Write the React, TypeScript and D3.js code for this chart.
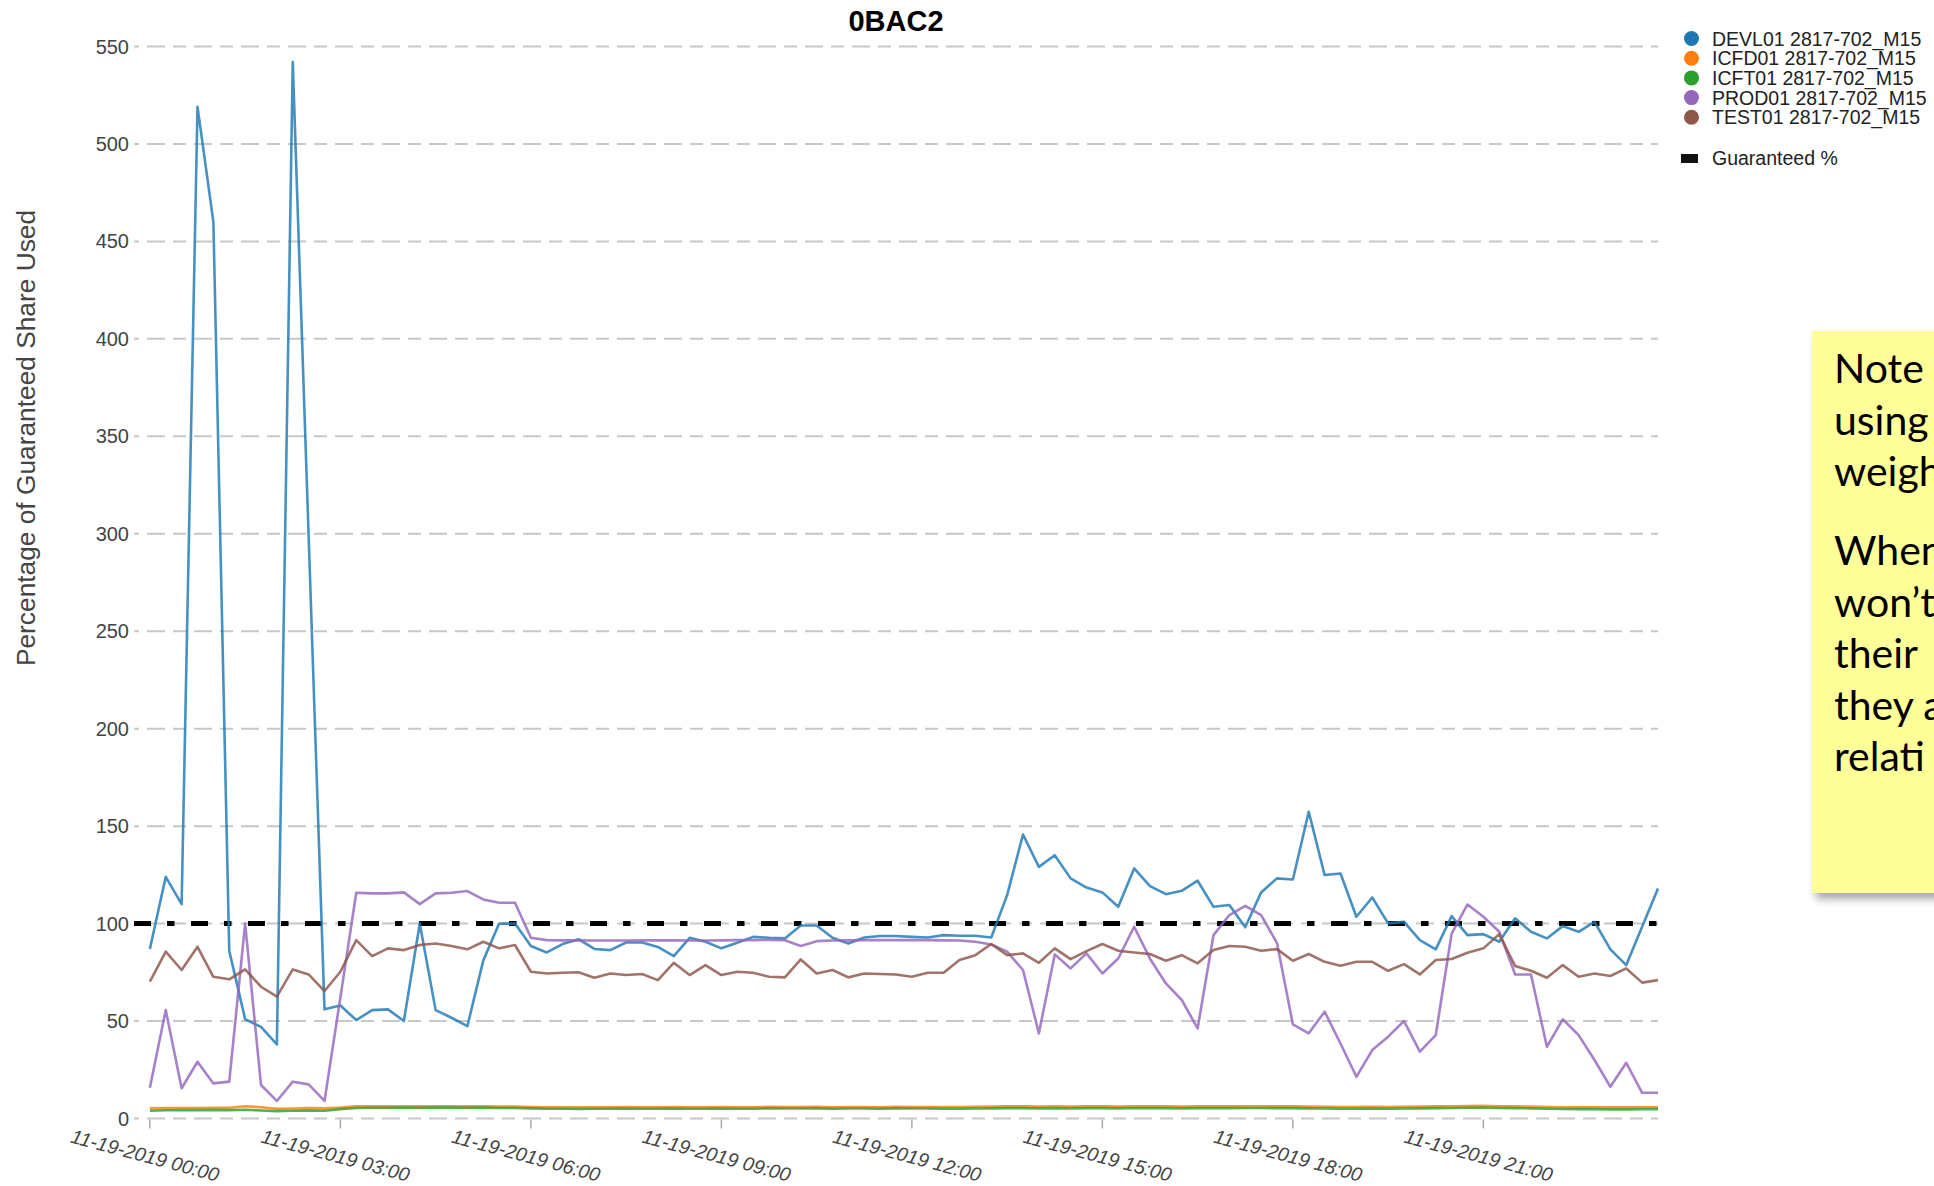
import React from 'react';
import * as d3 from 'd3';

const W = 1934;
const H = 1186;

const TITLE = '0BAC2';
const Y_LABEL = 'Percentage of Guaranteed Share Used';
const START = new Date(2019, 10, 19, 0, 0);
const STEP_MIN = 15;
const GUARANTEED = 100;
const GUARANTEED_LABEL = 'Guaranteed %';

const SERIES_NAMES = [
  'DEVL01 2817-702_M15',
  'ICFD01 2817-702_M15',
  'ICFT01 2817-702_M15',
  'PROD01 2817-702_M15',
  'TEST01 2817-702_M15',
];
const SERIES_COLORS = ['#1f77b4', '#ff7f0e', '#2ca02c', '#9467bd', '#8c564b'];

const DEVL = [
  87, 124, 110, 519, 460, 86, 51, 47, 38, 542, 299, 56,
  58, 50.5, 55.6, 56, 50, 100, 55.6, 51.7, 47.4, 81, 100, 100,
  88.5, 85.2, 89.5, 92, 87, 86.4, 90.3, 90.3, 88, 83.3, 92.7, 90.7,
  87.3, 90.2, 93.2, 92.7, 92.4, 99, 99, 92.7, 89.8, 92.9, 93.6, 93.6,
  93.2, 92.9, 94.1, 93.8, 93.8, 92.9, 114.6, 145.7, 129.1, 135.1, 123.2, 118.5,
  116, 108.6, 128.3, 119.2, 115.1, 116.8, 122, 108.6, 109.5, 98.1, 116, 123.2,
  122.6, 157.4, 124.9, 125.7, 103.5, 113.4, 100.1, 100.9, 91.5, 86.8, 103.8, 94.1,
  94.6, 90.7, 102.7, 95.8, 92.4, 98.7, 95.8, 100.9, 86.8, 78.7, 98.4, 118,
];

const ICFD = [
  5.2, 5.3, 5.4, 5.4, 5.5, 5.5, 6.3, 5.8, 5.0, 5.1, 5.3, 5.2,
  5.6, 6.2, 6.3, 6.2, 6.3, 6.2, 6.3, 6.3, 6.2, 6.3, 6.1, 6.1,
  5.9, 5.8, 5.8, 5.7, 5.8, 5.8, 5.9, 5.8, 5.8, 5.9, 5.8, 5.8,
  5.9, 5.8, 5.8, 6.0, 5.9, 5.9, 6.0, 5.8, 5.9, 5.9, 5.8, 6.0,
  5.9, 5.9, 5.9, 5.9, 6.0, 6.1, 6.2, 6.2, 6.1, 6.2, 6.1, 6.2,
  6.2, 6.1, 6.3, 6.2, 6.2, 6.1, 6.2, 6.3, 6.2, 6.3, 6.3, 6.2,
  6.2, 6.1, 6.0, 5.9, 5.9, 6.0, 5.9, 6.0, 6.1, 6.2, 6.3, 6.4,
  6.5, 6.3, 6.2, 6.1, 5.9, 5.8, 5.7, 5.7, 5.7, 5.7, 5.8, 5.8,
];

const ICFT = [
  4.0, 4.2, 4.3, 4.3, 4.4, 4.3, 4.5, 4.1, 3.8, 4.0, 4.1, 4.0,
  4.8, 5.4, 5.5, 5.5, 5.6, 5.5, 5.6, 5.6, 5.5, 5.6, 5.4, 5.4,
  5.2, 5.0, 5.0, 4.9, 5.0, 5.0, 5.1, 5.0, 5.0, 5.1, 5.0, 5.0,
  5.1, 5.0, 5.0, 5.2, 5.1, 5.1, 5.2, 5.0, 5.1, 5.1, 5.0, 5.2,
  5.1, 5.1, 5.0, 5.0, 5.1, 5.2, 5.3, 5.3, 5.2, 5.3, 5.2, 5.3,
  5.3, 5.2, 5.4, 5.3, 5.3, 5.2, 5.3, 5.4, 5.3, 5.4, 5.4, 5.3,
  5.3, 5.2, 5.1, 5.0, 5.0, 5.1, 5.0, 5.1, 5.2, 5.3, 5.4, 5.5,
  5.6, 5.4, 5.3, 5.2, 5.0, 4.9, 4.8, 4.8, 4.7, 4.7, 4.8, 4.8,
];

const PROD = [
  15.8, 55.6, 15.5, 29.1, 18, 18.9, 100, 17.2, 9, 18.9, 17.5, 9,
  62, 115.8, 115.5, 115.5, 116, 110, 115.5, 115.8, 116.7, 112.4, 110.7, 110.7,
  92.7, 91.5, 91.4, 91.4, 91.3, 91.3, 91.3, 91.4, 91.4, 91.4, 91.3, 91.3,
  91.4, 91.5, 91.5, 91.6, 91.5, 88.5, 91, 91.3, 91.4, 91.5, 91.5, 91.6,
  91.5, 91.5, 91.4, 91.3, 90.7, 89.3, 85.6, 76.2, 43.7, 84.2, 77, 84.7,
  74.4, 82.1, 98.4, 82, 69.3, 60.8, 46.2, 94.1, 104.4, 109.1, 104.4, 90,
  48.3, 43.7, 54.8, 38.5, 21.4, 35.1, 42, 50, 34.3, 42.8, 94.9, 109.8,
  103.5, 95.8, 73.9, 73.9, 36.8, 50.9, 42.8, 30, 16.3, 28.6, 13.2, 13.2,
];

const TEST = [
  70.2, 85.6, 76.2, 88.1, 72.7, 71.4, 76.5, 67.6, 62.5, 76.5, 73.9, 65.4,
  75.3, 91.5, 83.3, 87.3, 86.4, 89, 89.8, 88.5, 86.8, 90.7, 87.3, 89,
  75.3, 74.4, 74.8, 75, 72.2, 74.4, 73.6, 74.1, 71, 79.9, 73.6, 78.7,
  73.6, 75.3, 74.8, 72.7, 72.4, 81.6, 74.4, 76.2, 72.4, 74.4, 74.1, 73.9,
  72.7, 74.8, 74.8, 81.3, 83.8, 89.5, 83.8, 84.7, 79.9, 87.3, 81.8, 85.9,
  89.5, 86.1, 85.2, 84.4, 80.9, 83.8, 79.6, 86.4, 88.5, 88.1, 86.1, 86.9,
  80.9, 84.4, 80.4, 78.4, 80.4, 80.4, 75.8, 79.2, 73.9, 81.3, 81.8, 85,
  87.3, 94.6, 78.2, 75.8, 72.2, 78.7, 72.7, 74.4, 73.1, 77, 69.7, 71,
];

const SERIES_VALUES = [DEVL, ICFD, ICFT, PROD, TEST];

const Y_TICKS = [0, 50, 100, 150, 200, 250, 300, 350, 400, 450, 500, 550];
const X_TICK_HOURS = [0, 3, 6, 9, 12, 15, 18, 21];

const NOTE_PARAGRAPHS = [
  ['Note', 'using', 'weigh'],
  ['When', 'won\u2019t', 'their', 'they a', 'relati'],
];

const FONT = '"Liberation Sans", Arial, Helvetica, sans-serif';

const timeAt = (i: number) => new Date(START.getTime() + i * STEP_MIN * 60000);

export default function App() {
  const n = DEVL.length;
  const x = d3
    .scaleTime()
    .domain([timeAt(-1), timeAt(n - 1)])
    .range([134, 1658]);
  const y = d3.scaleLinear().domain([0, 550]).range([1118.5, 46.5]);

  const line = d3
    .line<number>()
    .x((_, i) => x(timeAt(i)))
    .y((d) => y(d));

  const fmt = d3.timeFormat('%m-%d-%Y %H:%M');
  const xTicks = X_TICK_HOURS.map((h) => new Date(2019, 10, 19, h, 0));

  const [x0, x1] = x.range();
  const legendX = 1691.5;
  const legendY0 = 38.5;
  const legendDy = 19.7;

  return (
    <svg
      width={W}
      height={H}
      style={{ position: 'absolute', left: 0, top: 0, display: 'block', background: '#fff' }}
      fontFamily={FONT}
    >
      <defs>
        <filter id="noteShadow" x="-10%" y="-10%" width="130%" height="130%">
          <feDropShadow dx="4" dy="6" stdDeviation="4" floodColor="#000" floodOpacity="0.35" />
        </filter>
        <clipPath id="pageClip">
          <rect x={0} y={0} width={W} height={H} />
        </clipPath>
      </defs>
      <rect x={0} y={0} width={W} height={H} fill="#fff" />

      {/* title */}
      <text x={896} y={31} textAnchor="middle" fontSize={29} fontWeight="bold" fill="#000">
        {TITLE}
      </text>

      {/* gridlines + y labels */}
      {Y_TICKS.map((t) => (
        <g key={t}>
          <line
            x1={x0}
            x2={x1}
            y1={y(t)}
            y2={y(t)}
            stroke="#c8c8c8"
            strokeWidth={2}
            strokeDasharray="18,8,13,8"
            strokeDashoffset={34}
          />
          <text x={129} y={y(t)} dy="0.35em" textAnchor="end" fontSize={20} fill="#444">
            {t}
          </text>
        </g>
      ))}

      {/* x ticks */}
      {xTicks.map((t) => (
        <g key={t.getTime()}>
          <line x1={x(t)} x2={x(t)} y1={y(0) + 1} y2={y(0) + 10} stroke="#aaa" strokeWidth={1.5} />
          <text
            transform={`translate(${x(t) - 6.5},${1162}) rotate(15)`}
            textAnchor="middle"
            fontSize={19.5}
            fontStyle="italic"
            fill="#444"
          >
            {fmt(t)}
          </text>
        </g>
      ))}

      {/* y axis title */}
      <text
        transform={`translate(34.5,438) rotate(-90)`}
        textAnchor="middle"
        fontSize={26.3}
        fill="#444"
      >
        {Y_LABEL}
      </text>

      {/* guaranteed line */}
      <line
        x1={x0}
        x2={x1}
        y1={y(GUARANTEED)}
        y2={y(GUARANTEED)}
        stroke="#000"
        strokeWidth={5}
        strokeDasharray="17,16,7.5,16.5"
      />

      {/* series */}
      {SERIES_VALUES.map((vals, k) => (
        <path
          key={SERIES_NAMES[k]}
          d={line(vals) || ''}
          fill="none"
          stroke={SERIES_COLORS[k]}
          strokeOpacity={0.82}
          strokeWidth={2.6}
          strokeLinejoin="round"
        />
      ))}

      {/* legend */}
      {SERIES_NAMES.map((name, k) => (
        <g key={name}>
          <circle cx={legendX} cy={legendY0 + k * legendDy} r={7.5} fill={SERIES_COLORS[k]} />
          <text x={1712} y={legendY0 + k * legendDy + 7} fontSize={19.5} fill="#222">
            {name}
          </text>
        </g>
      ))}
      <rect x={1681} y={154} width={17} height={9} fill="#111" />
      <text x={1712} y={165} fontSize={19.5} fill="#222">
        {GUARANTEED_LABEL}
      </text>

      {/* note box (cut by the right edge of the picture, as in the reference) */}
      <g clipPath="url(#pageClip)">
        <rect x={1812} y={331} width={200} height={562} fill="#ffff99" filter="url(#noteShadow)" />
        {NOTE_PARAGRAPHS.map((para, p) =>
          para.map((txt, j) => (
            <text
              key={`${p}-${j}`}
              x={1834}
              y={(p === 0 ? 383 : 565) + j * 51.5}
              fontSize={41}
              fontFamily='Lato, "Open Sans", sans-serif'
              fill="#000"
            >
              {txt}
            </text>
          )),
        )}
      </g>
    </svg>
  );
}
